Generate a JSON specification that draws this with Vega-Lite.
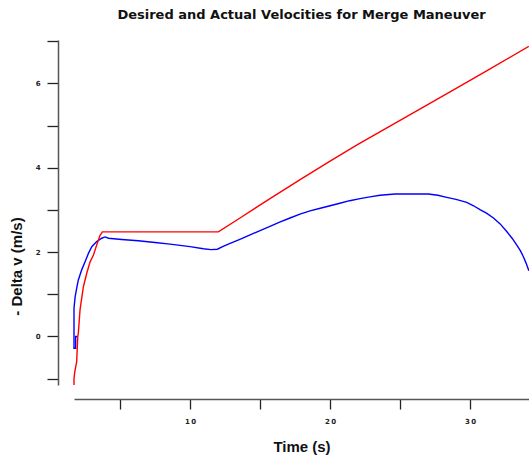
{
  "$schema": "https://vega.github.io/schema/vega-lite/v6.json",
  "autosize": {"type": "none"},
  "width": 455,
  "height": 345,
  "padding": {"left": 74, "top": 40, "right": 0, "bottom": 75},
  "background": "white",
  "title": {
    "text": "Desired and Actual Velocities for Merge Maneuver",
    "font": "DejaVu Sans",
    "fontSize": 13,
    "fontWeight": "bold",
    "color": "#111",
    "anchor": "middle",
    "offset": 18
  },
  "config": {
    "view": {"stroke": null},
    "axis": {
      "grid": false,
      "domainColor": "#555",
      "domainWidth": 1.5,
      "tickColor": "#222",
      "tickWidth": 1.3,
      "labelFont": "DejaVu Sans",
      "labelFontSize": 7,
      "labelFontWeight": "bold",
      "labelColor": "#222",
      "titleFont": "Liberation Sans",
      "titleFontSize": 15,
      "titleFontWeight": "bold",
      "titleColor": "#111"
    }
  },
  "data": {
    "values": [
      {"s": "actual", "i": 0, "t": 1.98, "v": 0.0},
      {"s": "actual", "i": 1, "t": 1.83, "v": 0.0},
      {"s": "actual", "i": 2, "t": 1.83, "v": -0.28},
      {"s": "actual", "i": 3, "t": 1.71, "v": -0.28},
      {"s": "actual", "i": 4, "t": 1.71, "v": 0.67},
      {"s": "actual", "i": 5, "t": 1.79, "v": 0.94},
      {"s": "actual", "i": 6, "t": 1.90, "v": 1.14},
      {"s": "actual", "i": 7, "t": 2.02, "v": 1.34},
      {"s": "actual", "i": 8, "t": 2.26, "v": 1.58},
      {"s": "actual", "i": 9, "t": 2.50, "v": 1.77},
      {"s": "actual", "i": 10, "t": 2.74, "v": 1.97},
      {"s": "actual", "i": 11, "t": 2.98, "v": 2.13},
      {"s": "actual", "i": 12, "t": 3.33, "v": 2.25},
      {"s": "actual", "i": 13, "t": 3.69, "v": 2.33},
      {"s": "actual", "i": 14, "t": 3.93, "v": 2.36},
      {"s": "actual", "i": 15, "t": 4.17, "v": 2.33},
      {"s": "actual", "i": 16, "t": 5.12, "v": 2.30},
      {"s": "actual", "i": 17, "t": 6.30, "v": 2.27},
      {"s": "actual", "i": 18, "t": 7.50, "v": 2.23},
      {"s": "actual", "i": 19, "t": 8.57, "v": 2.19},
      {"s": "actual", "i": 20, "t": 10.0, "v": 2.13},
      {"s": "actual", "i": 21, "t": 10.95, "v": 2.08},
      {"s": "actual", "i": 22, "t": 11.5, "v": 2.06},
      {"s": "actual", "i": 23, "t": 11.95, "v": 2.07},
      {"s": "actual", "i": 24, "t": 12.4, "v": 2.14},
      {"s": "actual", "i": 25, "t": 12.86, "v": 2.21},
      {"s": "actual", "i": 26, "t": 13.6, "v": 2.31},
      {"s": "actual", "i": 27, "t": 14.29, "v": 2.41},
      {"s": "actual", "i": 28, "t": 15.0, "v": 2.51},
      {"s": "actual", "i": 29, "t": 15.71, "v": 2.61},
      {"s": "actual", "i": 30, "t": 16.4, "v": 2.71},
      {"s": "actual", "i": 31, "t": 17.14, "v": 2.81},
      {"s": "actual", "i": 32, "t": 17.85, "v": 2.90},
      {"s": "actual", "i": 33, "t": 18.57, "v": 2.98},
      {"s": "actual", "i": 34, "t": 19.3, "v": 3.04},
      {"s": "actual", "i": 35, "t": 20.0, "v": 3.10},
      {"s": "actual", "i": 36, "t": 20.7, "v": 3.16},
      {"s": "actual", "i": 37, "t": 21.4, "v": 3.22},
      {"s": "actual", "i": 38, "t": 22.14, "v": 3.27},
      {"s": "actual", "i": 39, "t": 22.85, "v": 3.31},
      {"s": "actual", "i": 40, "t": 23.57, "v": 3.35},
      {"s": "actual", "i": 41, "t": 24.64, "v": 3.38},
      {"s": "actual", "i": 42, "t": 27.02, "v": 3.38},
      {"s": "actual", "i": 43, "t": 27.7, "v": 3.35},
      {"s": "actual", "i": 44, "t": 28.33, "v": 3.30},
      {"s": "actual", "i": 45, "t": 29.0, "v": 3.25},
      {"s": "actual", "i": 46, "t": 29.76, "v": 3.18},
      {"s": "actual", "i": 47, "t": 30.25, "v": 3.10},
      {"s": "actual", "i": 48, "t": 30.71, "v": 3.01},
      {"s": "actual", "i": 49, "t": 31.2, "v": 2.92},
      {"s": "actual", "i": 50, "t": 31.67, "v": 2.81},
      {"s": "actual", "i": 51, "t": 32.15, "v": 2.67},
      {"s": "actual", "i": 52, "t": 32.62, "v": 2.49},
      {"s": "actual", "i": 53, "t": 33.0, "v": 2.33},
      {"s": "actual", "i": 54, "t": 33.33, "v": 2.17},
      {"s": "actual", "i": 55, "t": 33.6, "v": 2.03},
      {"s": "actual", "i": 56, "t": 33.81, "v": 1.89},
      {"s": "actual", "i": 57, "t": 34.0, "v": 1.74},
      {"s": "actual", "i": 58, "t": 34.2, "v": 1.56},
      {"s": "desired", "i": 0, "t": 1.71, "v": -1.15},
      {"s": "desired", "i": 1, "t": 1.71, "v": -1.0},
      {"s": "desired", "i": 2, "t": 1.76, "v": -0.85},
      {"s": "desired", "i": 3, "t": 1.84, "v": -0.70},
      {"s": "desired", "i": 4, "t": 1.90, "v": -0.60},
      {"s": "desired", "i": 5, "t": 1.98, "v": 0.0},
      {"s": "desired", "i": 6, "t": 2.02, "v": 0.08},
      {"s": "desired", "i": 7, "t": 2.14, "v": 0.63},
      {"s": "desired", "i": 8, "t": 2.38, "v": 1.18},
      {"s": "desired", "i": 9, "t": 2.62, "v": 1.50},
      {"s": "desired", "i": 10, "t": 2.86, "v": 1.77},
      {"s": "desired", "i": 11, "t": 3.10, "v": 1.93},
      {"s": "desired", "i": 12, "t": 3.33, "v": 2.17},
      {"s": "desired", "i": 13, "t": 3.57, "v": 2.40},
      {"s": "desired", "i": 14, "t": 3.74, "v": 2.48},
      {"s": "desired", "i": 15, "t": 12.02, "v": 2.48},
      {"s": "desired", "i": 16, "t": 13.57, "v": 2.81},
      {"s": "desired", "i": 17, "t": 15.71, "v": 3.27},
      {"s": "desired", "i": 18, "t": 17.86, "v": 3.72},
      {"s": "desired", "i": 19, "t": 20.0, "v": 4.16},
      {"s": "desired", "i": 20, "t": 22.02, "v": 4.56},
      {"s": "desired", "i": 21, "t": 25.5, "v": 5.22},
      {"s": "desired", "i": 22, "t": 28.57, "v": 5.80},
      {"s": "desired", "i": 23, "t": 31.4, "v": 6.34},
      {"s": "desired", "i": 24, "t": 34.2, "v": 6.88}
    ]
  },
  "encoding": {
    "x": {
      "field": "t",
      "type": "quantitative",
      "scale": {"domain": [1.71, 34.21], "nice": false, "zero": false},
      "axis": {
        "title": "Time (s)",
        "offset": 14,
        "values": [5, 10, 15, 20, 25, 30],
        "tickSize": 10,
        "labelPadding": 8,
        "titlePadding": 15,
        "labelExpr": "datum.value % 10 === 0 ? join(split(datum.label, ''), '\u2009') : ''",
        "encode": {"ticks": {"update": {"y2": {"signal": "datum.value % 10 === 0 ? 10 : 5"}}}}
      }
    },
    "y": {
      "field": "v",
      "type": "quantitative",
      "scale": {"domain": [-1.15, 7.03], "nice": false, "zero": false},
      "axis": {
        "title": "- Delta v (m/s)",
        "offset": 16,
        "values": [-1, 0, 1, 2, 3, 4, 5, 6, 7],
        "tickSize": 11,
        "labelPadding": 7,
        "titlePadding": 11,
        "titleY": 226,
        "labelExpr": "datum.value % 2 === 0 ? datum.label : ''",
        "encode": {"ticks": {"update": {"x2": {"signal": "datum.value % 2 === 0 ? -11 : -6"}}}}
      }
    },
    "order": {"field": "i", "type": "quantitative"}
  },
  "layer": [
    {
      "transform": [{"filter": "datum.s === 'actual'"}],
      "mark": {"type": "line", "color": "#0000ff", "strokeWidth": 1.4}
    },
    {
      "transform": [{"filter": "datum.s === 'desired'"}],
      "mark": {"type": "line", "color": "#ff0000", "strokeWidth": 1.4}
    }
  ]
}
